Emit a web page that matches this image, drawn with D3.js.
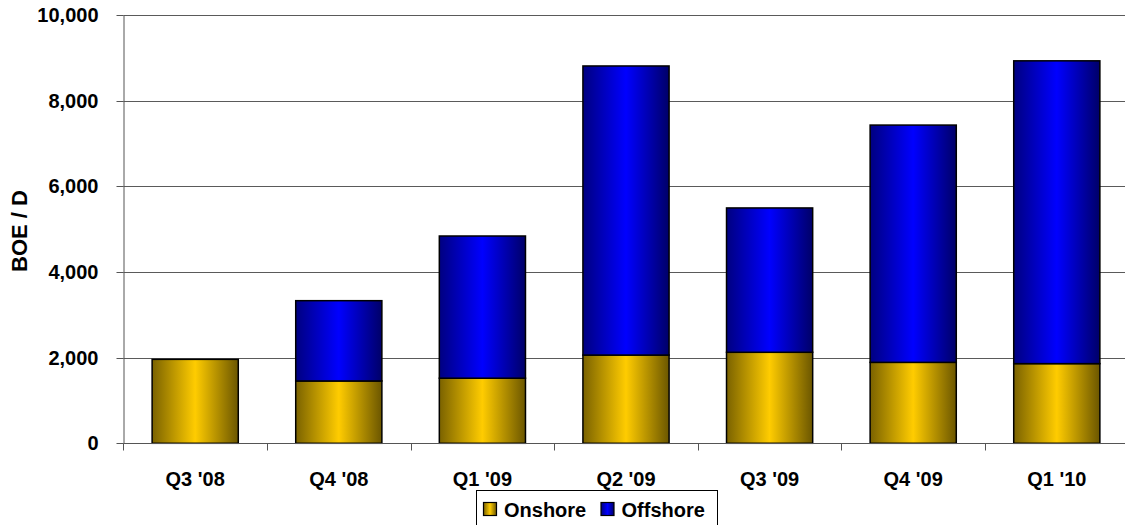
<!DOCTYPE html>
<html>
<head>
<meta charset="utf-8">
<script src="https://cdn.jsdelivr.net/npm/d3@7"></script>
<style>
html,body{margin:0;padding:0;background:#fff;}
svg{display:block;font-family:Arial,"Liberation Sans",sans-serif;}
</style>
</head>
<body>
<svg id="chart" width="1125" height="525"></svg>
<script>
const categories = ["Q3 '08","Q4 '08","Q1 '09","Q2 '09","Q3 '09","Q4 '09","Q1 '10"];
const onshore  = [1960, 1455, 1520, 2060, 2125, 1890, 1860];
const offshore = [0, 1875, 3320, 6750, 3370, 5540, 7070];
const yTicks = [0, 2000, 4000, 6000, 8000, 10000];
const seriesNames = ["Onshore","Offshore"];

const svg = d3.select("#chart");
const pLeft = 123.4, pRight = 1128.6, pTop = 15, pBottom = 443.3;

const x = d3.scaleBand().domain(categories).range([pLeft, pRight]).paddingInner(0.4).paddingOuter(0.2);
const y = d3.scaleLinear().domain([0, 10000]).range([pBottom, pTop]);

const defs = svg.append("defs");
function grad(id, stops){
  const g = defs.append("linearGradient").attr("id", id).attr("x1","0%").attr("x2","100%").attr("y1","0%").attr("y2","0%");
  stops.forEach(s => g.append("stop").attr("offset", s[0]).attr("stop-color", s[1]));
}
grad("gOn", [["0%","#7a6200"],["50%","#ffcc00"],["100%","#6b5600"]]);
grad("gOff", [["0%","#000080"],["50%","#0000ff"],["100%","#000068"]]);

// gridlines
svg.append("g").selectAll("line").data(yTicks.filter(d => d > 0)).join("line")
  .attr("x1", pLeft).attr("x2", pRight)
  .attr("y1", d => Math.round(y(d)) + 0.5).attr("y2", d => Math.round(y(d)) + 0.5)
  .attr("stroke", "#5a5a5a").attr("stroke-width", 1);

// y axis
const yAxis = d3.axisLeft(y).tickValues(yTicks).tickSize(7).tickSizeOuter(0).tickPadding(18)
  .tickFormat(d3.format(","));
const gy = svg.append("g").attr("transform", `translate(${Math.round(pLeft)+0.5},0)`).call(yAxis);
gy.select(".domain").attr("stroke", "#555");
gy.selectAll(".tick line").attr("stroke", "#555");
gy.selectAll(".tick text").attr("font-size", "20px").attr("font-weight", "bold").attr("fill", "#000")
  .attr("font-family", "Arial,'Liberation Sans',sans-serif");
gy.selectAll(".tick").attr("transform", d => `translate(0,${Math.round(y(d))+0.5})`);

// bars
const stacked = categories.map((c, i) => ({c, on: onshore[i], off: offshore[i]}));
const bars = svg.append("g");
bars.selectAll("rect.on").data(stacked).join("rect").attr("class","on")
  .attr("x", d => x(d.c)).attr("width", x.bandwidth())
  .attr("y", d => y(d.on)).attr("height", d => y(0) - y(d.on))
  .attr("fill", "url(#gOn)").attr("stroke", "#000").attr("stroke-width", 1.5);
bars.selectAll("rect.off").data(stacked.filter(d => d.off > 0)).join("rect").attr("class","off")
  .attr("x", d => x(d.c)).attr("width", x.bandwidth())
  .attr("y", d => y(d.on + d.off)).attr("height", d => y(d.on) - y(d.on + d.off))
  .attr("fill", "url(#gOff)").attr("stroke", "#000").attr("stroke-width", 1.5);

// x axis
const gx = svg.append("g").attr("transform", `translate(0,${Math.round(pBottom)+0.5})`);
gx.append("line").attr("x1", pLeft).attr("x2", pRight).attr("stroke", "#555");
const bounds = d3.range(categories.length + 1).map(i => pLeft + i * x.step());
gx.selectAll("line.t").data(bounds).join("line").attr("class","t")
  .attr("x1", d => Math.round(d)+0.5).attr("x2", d => Math.round(d)+0.5).attr("y1", 0).attr("y2", 7)
  .attr("stroke", "#555");
gx.selectAll("text").data(categories).join("text")
  .attr("x", d => x(d) + x.bandwidth()/2).attr("y", 42)
  .attr("text-anchor", "middle").attr("font-size", "20px").attr("font-weight", "bold").text(d => d);

// y label
svg.append("text").attr("transform", `translate(27,231) rotate(-90)`)
  .attr("text-anchor", "middle").attr("font-size", "22px").attr("font-weight", "bold").text("BOE / D");

// legend
const lg = svg.append("g");
lg.append("rect").attr("x", 476.5).attr("y", 490.5).attr("width", 241).attr("height", 40)
  .attr("fill", "#fff").attr("stroke", "#000").attr("stroke-width", 1);
const legendItems = [{name: seriesNames[0], fill: "url(#gOn)", sx: 483.5, tx: 504},
                     {name: seriesNames[1], fill: "url(#gOff)", sx: 601, tx: 621.5}];
legendItems.forEach(it => {
  lg.append("rect").attr("x", it.sx).attr("y", 502.5).attr("width", 13).attr("height", 13)
    .attr("fill", it.fill).attr("stroke", "#000").attr("stroke-width", 1.2);
  lg.append("text").attr("x", it.tx).attr("y", 516.5).attr("font-size", "20px").attr("font-weight", "bold").text(it.name);
});
</script>
</body>
</html>
